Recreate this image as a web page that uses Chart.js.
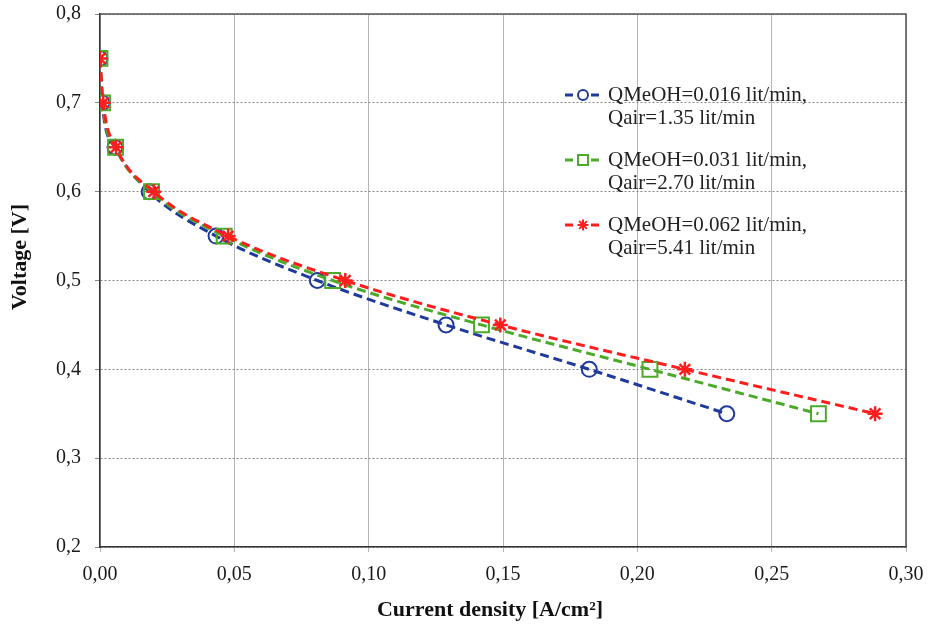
<!DOCTYPE html>
<html>
<head>
<meta charset="utf-8">
<script src="https://cdn.jsdelivr.net/npm/chart.js@4"></script>
<style>
  html, body { margin: 0; padding: 0; background: #fff; }
  #wrap { width: 928px; height: 626px; position: relative; }
</style>
</head>
<body>
<div id="wrap"><canvas id="grafico"></canvas></div>
<script>
// datos
const voltaje = [0.75, 0.70, 0.65, 0.60, 0.55, 0.50, 0.45, 0.40, 0.35];
const densidad1 = [0.000, 0.0008, 0.0056, 0.0183, 0.0432, 0.0809, 0.1288, 0.1821, 0.2333];
const densidad2 = [0.000, 0.0010, 0.0058, 0.0192, 0.0462, 0.0866, 0.1420, 0.2047, 0.2674];
const densidad3 = [0.000, 0.0012, 0.0060, 0.0200, 0.0477, 0.0913, 0.1490, 0.2177, 0.2885];
const etiquetas = [
  ['QMeOH=0.016 lit/min,', 'Qair=1.35 lit/min'],
  ['QMeOH=0.031 lit/min,', 'Qair=2.70 lit/min'],
  ['QMeOH=0.062 lit/min,', 'Qair=5.41 lit/min']
];
const colores = ['#1f3a9a', '#4caa2a', '#ff1e1e'];
const marcadores = ['circle', 'rect', 'star'];
const ticksX = [0, 0.05, 0.10, 0.15, 0.20, 0.25, 0.30];
const ticksY = [0.2, 0.3, 0.4, 0.5, 0.6, 0.7, 0.8];

const FUENTE = "'Liberation Serif', 'DejaVu Serif', serif";
const radios = [7.5, 10.5, 7.5];
const radiosLeyenda = [5, 7, 5.5];

function puntos(xs) {
  return xs.map((x, i) => ({ x: x, y: voltaje[i] }));
}

const series = [densidad1, densidad2, densidad3].map((d, i) => ({
  label: etiquetas[i].join(' '),
  data: puntos(d),
  borderColor: colores[i],
  backgroundColor: 'transparent',
  borderWidth: 3,
  borderDash: [9, 5],
  cubicInterpolationMode: 'monotone',
  pointStyle: marcadores[i],
  pointRadius: radios[i],
  pointBorderWidth: i === 2 ? 2.5 : 2,
  pointBackgroundColor: 'transparent',
  pointBorderColor: colores[i],
  order: 2 - i
}));

// marco superior/derecho, titulos de ejes y leyenda
const extras = {
  id: 'extras',
  afterDatasetsDraw(chart) {
    const { ctx, chartArea: a } = chart;
    ctx.save();
    ctx.strokeStyle = '#555';
    ctx.lineWidth = 1.5;
    ctx.beginPath();
    ctx.moveTo(a.left, a.top);
    ctx.lineTo(a.right, a.top);
    ctx.lineTo(a.right, a.bottom);
    ctx.stroke();

    // leyenda
    const tops = [95, 160, 225];
    ctx.textBaseline = 'middle';
    ctx.textAlign = 'left';
    tops.forEach((y, i) => {
      ctx.strokeStyle = colores[i];
      ctx.lineWidth = 3;
      ctx.setLineDash([8, 5]);
      ctx.beginPath();
      ctx.moveTo(565, y);
      ctx.lineTo(601, y);
      ctx.stroke();
      ctx.setLineDash([]);
      ctx.lineWidth = 2;
      ctx.fillStyle = 'rgba(0,0,0,0)';
      ctx.clearRect(578, y - 5, 11, 10);
      Chart.helpers.drawPoint(ctx, { pointStyle: marcadores[i], radius: radiosLeyenda[i], borderWidth: 2 }, 583, y);
      ctx.fillStyle = '#222';
      ctx.font = '21px ' + FUENTE;
      ctx.fillText(etiquetas[i][0], 608, y);
      ctx.fillText(etiquetas[i][1], 608, y + 23);
    });

    // titulos
    ctx.fillStyle = '#111';
    ctx.font = 'bold 22px ' + FUENTE;
    ctx.textAlign = 'center';
    ctx.fillText('Current density [A/cm²]', 490, 610);
    ctx.translate(20, 257);
    ctx.rotate(-Math.PI / 2);
    ctx.fillText('Voltage [V]', 0, 0);
    ctx.restore();
  }
};

function sinRelleno(s) {
  s.paddingTop = 0;
  s.paddingBottom = 0;
  s.paddingLeft = 0;
  s.paddingRight = 0;
}

new Chart(document.getElementById('grafico'), {
  type: 'line',
  data: { datasets: series },
  options: {
    responsive: true,
    maintainAspectRatio: false,
    animation: false,
    layout: { padding: { top: 14, right: 22, left: 0, bottom: 0 } },
    plugins: { legend: { display: false }, tooltip: { enabled: false } },
    scales: {
      x: {
        type: 'linear',
        min: 0,
        max: 0.3,
        afterBuildTicks: s => { s.ticks = ticksX.map(v => ({ value: v })); },
        afterFit: s => { s.height = 79; sinRelleno(s); },
        ticks: {
          callback: v => v.toFixed(2).replace('.', ','),
          font: { size: 20, family: FUENTE },
          color: '#1a1a1a',
          padding: 11,
          maxRotation: 0
        },
        grid: { color: '#b4b4b4', lineWidth: 1, tickLength: 5 },
        border: { color: '#333', width: 1.5 }
      },
      y: {
        type: 'linear',
        min: 0.2,
        max: 0.8,
        afterBuildTicks: s => { s.ticks = ticksY.map(v => ({ value: v })); },
        afterFit: s => { s.width = 100; sinRelleno(s); },
        ticks: {
          callback: v => v.toFixed(1).replace('.', ','),
          font: { size: 20, family: FUENTE },
          color: '#1a1a1a',
          padding: 14
        },
        grid: { color: '#888', lineWidth: 1, tickLength: 5 },
        border: { color: '#333', width: 1.5, dash: [2, 2] }
      }
    }
  },
  plugins: [extras]
});
</script>
</body>
</html>
